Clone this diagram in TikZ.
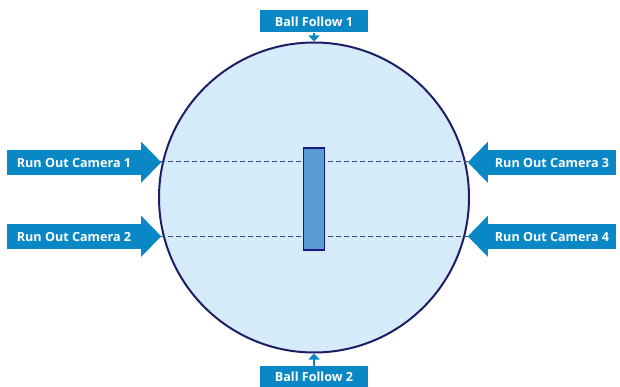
\documentclass[tikz,border=0pt]{standalone}
\usepackage{fontspec}
\setmainfont{Open Sans}
\usetikzlibrary{arrows.meta,calc}
\definecolor{arrowblue}{HTML}{0A88C6}
\definecolor{fieldfill}{HTML}{D6EBF9}
\definecolor{navy}{HTML}{1E1E66}
\definecolor{dashc}{HTML}{3A4785}
\definecolor{pitchfill}{HTML}{5B9BD5}
\tikzset{
  x=1pt,y=-1pt,
  label/.style={fill=arrowblue,text=white,font=\bfseries\fontsize{12.6}{14}\selectfont,inner sep=0pt,anchor=center},
  head/.style={fill=arrowblue},
  dashline/.style={dashc,dash pattern=on 5pt off 3pt,line width=1pt},
  smallarrow/.style={arrowblue,line width=2.4pt,-{Triangle[width=11pt,length=6pt]}}
}
\begin{document}
\begin{tikzpicture}
\useasboundingbox (0,0) rectangle (620,387);
% field
\node[circle,draw=navy,line width=2pt,fill=fieldfill,minimum size=310pt,inner sep=0pt] (field) at (314,197.5) {};
% dashed lines
\coordinate (d1l) at (160,162); \coordinate (d1r) at (468,162);
\coordinate (d2l) at (160,236); \coordinate (d2r) at (468,236);
\draw[dashline] (d1l) -- (d1r);
\draw[dashline] (d2l) -- (d2r);
% pitch
\node[draw=navy!80!blue,line width=1.3pt,fill=pitchfill,minimum width=21pt,minimum height=102pt,inner sep=0pt] (pitch) at (314,199) {};
% left arrows
\node[label,minimum width=134pt,minimum height=25pt] (c1) at (74,162.5) {Run Out Camera 1};
\fill[head] (c1.north east) ++(0,-8) -- ++(20,20.5) -- ++(-20,20.5) -- cycle;
\node[label,minimum width=134pt,minimum height=25pt] (c2) at (74,236.5) {Run Out Camera 2};
\fill[head] (c2.north east) ++(0,-8) -- ++(20,20.5) -- ++(-20,20.5) -- cycle;
% right arrows
\node[label,minimum width=128pt,minimum height=25pt] (c3) at (552,162.5) {Run Out Camera 3};
\fill[head] (c3.north west) ++(0,-8) -- ++(-20,20.5) -- ++(20,20.5) -- cycle;
\node[label,minimum width=128pt,minimum height=25pt] (c4) at (552,236.5) {Run Out Camera 4};
\fill[head] (c4.north west) ++(0,-8) -- ++(-20,20.5) -- ++(20,20.5) -- cycle;
% ball follow
\node[label,minimum width=108pt,minimum height=22pt] (b1) at (314,21.5) {Ball Follow 1};
\node[label,minimum width=108pt,minimum height=22pt] (b2) at (314,377) {Ball Follow 2};
\draw[smallarrow] (b1.south) -- (field.north);
\draw[smallarrow] (b2.north) -- (field.south);
\end{tikzpicture}
\end{document}
